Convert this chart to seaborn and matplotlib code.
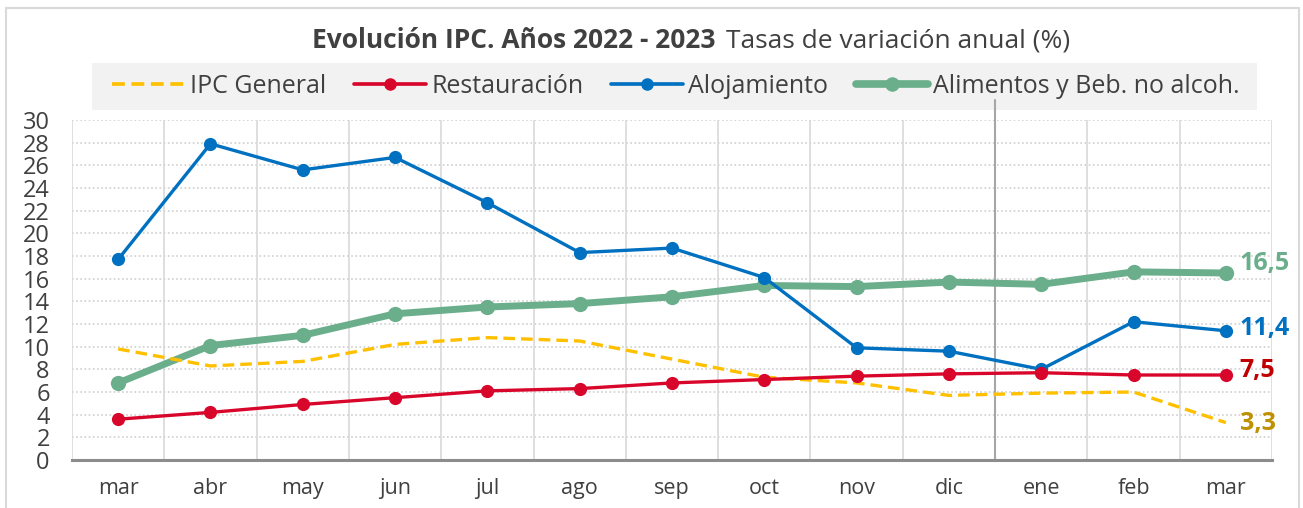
import matplotlib
matplotlib.use("Agg")
import matplotlib.pyplot as plt
import seaborn as sns
import pandas as pd
from matplotlib.lines import Line2D
from matplotlib.patches import Rectangle

months = ["mar", "abr", "may", "jun", "jul", "ago", "sep", "oct", "nov", "dic", "ene", "feb", "mar"]
ipc_general = [9.8, 8.3, 8.7, 10.2, 10.8, 10.5, 8.9, 7.3, 6.8, 5.7, 5.9, 6.0, 3.3]
restauracion = [3.6, 4.2, 4.9, 5.5, 6.1, 6.3, 6.8, 7.1, 7.4, 7.6, 7.7, 7.5, 7.5]
alojamiento = [17.7, 27.9, 25.6, 26.7, 22.7, 18.3, 18.7, 16.1, 9.9, 9.6, 8.0, 12.2, 11.4]
alimentos = [6.8, 10.1, 11.0, 12.9, 13.5, 13.8, 14.4, 15.4, 15.3, 15.7, 15.5, 16.6, 16.5]
series_names = ["IPC General", "Restauración", "Alojamiento", "Alimentos y Beb. no alcoh."]
end_labels = ["3,3", "7,5", "11,4", "16,5"]
y_ticks = list(range(0, 31, 2))

sns.set_theme(style="white")
plt.rcParams['font.family'] = ['Open Sans', 'DejaVu Sans']

pos = list(range(len(months)))
df = pd.DataFrame({"pos": pos * 4,
                   "valor": ipc_general + restauracion + alojamiento + alimentos,
                   "serie": sum([[n] * len(months) for n in series_names], [])})

W, H = 1303, 508
fig = plt.figure(figsize=(W / 100, H / 100), dpi=100)
ax = fig.add_axes([72/W, 1-460/H, 1200/W, 340/H])

styles = {
    "IPC General": dict(color="#FFC000", lw=2.4, ls=(0, (3.5, 1.8)), marker=None, ms=0),
    "Restauración": dict(color="#D9062B", lw=2.4, ls="-", marker="o", ms=9.5),
    "Alojamiento": dict(color="#0070C0", lw=2.4, ls="-", marker="o", ms=9.5),
    "Alimentos y Beb. no alcoh.": dict(color="#6AAE8C", lw=5.0, ls="-", marker="o", ms=11),
}
label_colors = {"IPC General": "#BF9000", "Restauración": "#C00000",
                "Alojamiento": "#0070C0", "Alimentos y Beb. no alcoh.": "#6AAE8C"}
label_offsets = {"IPC General": -1, "Restauración": 3.5, "Alojamiento": 2, "Alimentos y Beb. no alcoh.": 7}
zorders = {"IPC General": 4, "Restauración": 6, "Alojamiento": 5, "Alimentos y Beb. no alcoh.": 3}

for i, name in enumerate(series_names):
    st = styles[name]
    sub = df[df["serie"] == name]
    sns.lineplot(data=sub, x="pos", y="valor", ax=ax, color=st["color"], linewidth=st["lw"],
                 linestyle=st["ls"], marker=st["marker"], markersize=st["ms"],
                 markeredgewidth=0, legend=False, zorder=zorders[name])
    last = sub["valor"].iloc[-1]
    ax.annotate(end_labels[i], (sub["pos"].iloc[-1], last), xytext=(10, label_offsets[name]),
                textcoords="offset points", ha="left", va="center", fontsize=18,
                fontweight="bold", color=label_colors[name], annotation_clip=False)

ax.set_xlim(-0.5, len(months) - 0.5)
ax.set_ylim(0, 30)
ax.set_yticks(y_ticks)
ax.set_xticks(pos)
ax.set_xticklabels(months)
ax.set_xlabel("")
ax.set_ylabel("")
ax.tick_params(axis="x", labelsize=15.5, colors="#404040", pad=13, length=0)
ax.tick_params(axis="y", labelsize=17, colors="#404040", pad=16, length=0)

for y in y_ticks[1:]:
    ax.axhline(y, color="#CFCFCF", lw=1.2, ls=(0, (1, 1.5)), zorder=1)
for b in range(len(months) + 1):
    ax.axvline(b - 0.5, color="#D9D9D9", lw=1.2, zorder=1)
ax.axvline(9.5, ymin=0, ymax=1.06, color="#A6A6A6", lw=1.5, zorder=2, clip_on=False)

for s in ["top", "right", "left"]:
    ax.spines[s].set_visible(False)
ax.spines["bottom"].set_color("#8C8C8C")
ax.spines["bottom"].set_linewidth(2.2)
ax.spines["bottom"].set_zorder(7)

# title
fig.text(716/W, 1-48/H, "Evolución IPC. Años 2022 - 2023", ha="right", va="baseline",
         fontsize=19, fontweight="bold", color="#404040")
fig.text(726/W, 1-48/H, "Tasas de variación anual (%)", ha="left", va="baseline",
         fontsize=19, color="#404040")

# legend background
fig.add_artist(Rectangle((92/W, 1-110/H), (1257-92)/W, 47/H, transform=fig.transFigure,
                         facecolor="#F2F2F2", edgecolor="none", zorder=0))
handles = []
for name in series_names:
    st = styles[name]
    handles.append(Line2D([], [], color=st["color"], lw=st["lw"] * 1.1, ls=st["ls"],
                          marker=st["marker"], markersize=st["ms"] * 0.95, markeredgewidth=0))
leg = fig.legend(handles, series_names, loc="center", bbox_to_anchor=(676/W, 1-86.5/H),
                 ncol=4, frameon=False, fontsize=18, handlelength=2.9,
                 columnspacing=1.1, handletextpad=0.2, labelcolor="#404040")

# outer border
for xs, ys in [([6/W, 6/W], [0, 1-8/H]), ([6/W, 1299/W], [1-8/H, 1-8/H]),
               ([1299/W, 1299/W], [0, 1-8/H])]:
    fig.add_artist(Line2D(xs, ys, color="#D9D9D9", lw=1.5, transform=fig.transFigure))

fig.savefig("out.png", dpi=100, facecolor="white")
